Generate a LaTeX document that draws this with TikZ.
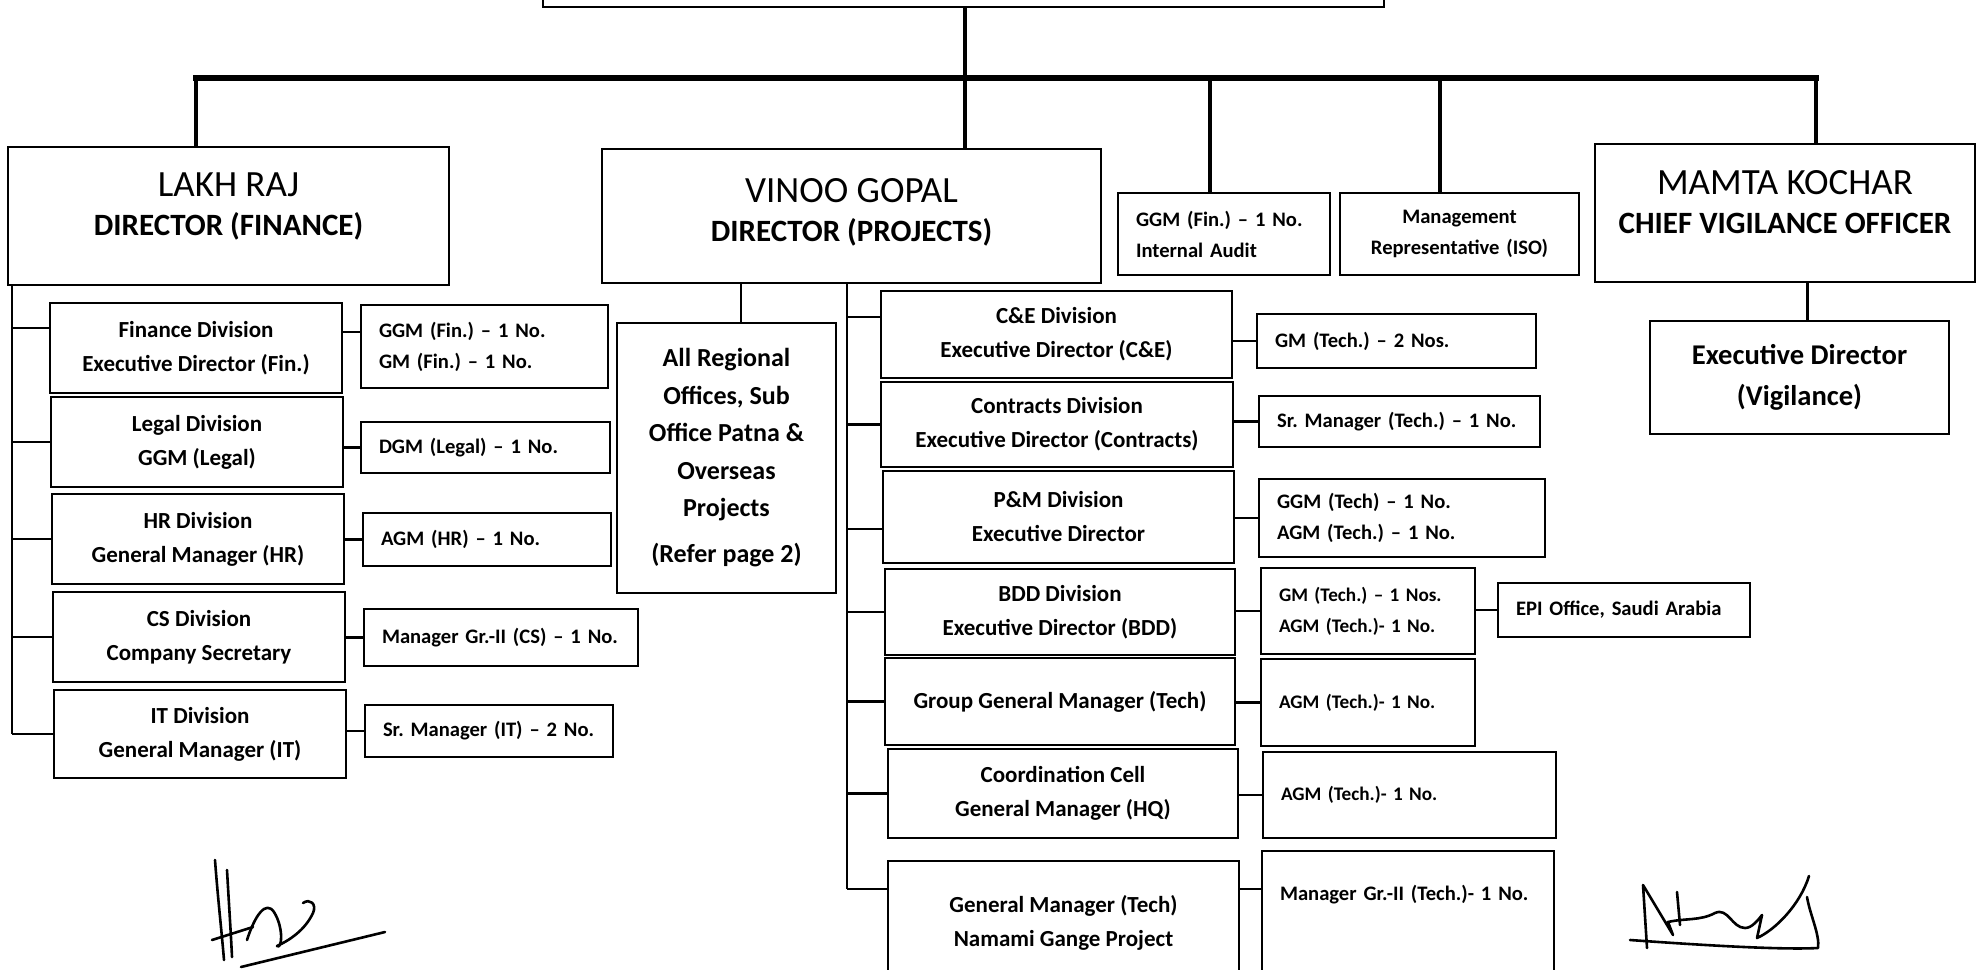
\documentclass[tikz,border=0pt]{standalone}
\usepackage{fontspec}
\setmainfont{Carlito}
\frenchspacing
\newcommand{\namefont}{\fontsize{18.5}{19.5}\selectfont}
\tikzset{
  headbox/.style={draw, line width=1.4pt, inner sep=0pt, align=center, font=\fontsize{15.5}{19.5}\selectfont},
  divbox/.style={draw, line width=1.4pt, inner sep=0pt, align=center, font=\bfseries\fontsize{11.5}{17}\selectfont},
  subbox/.style={draw, line width=1.4pt, inner xsep=9pt, inner ysep=0pt, align=left, font=\bfseries\fontsize{10.3}{15.5}\selectfont},
  smalltext/.style={font=\bfseries\fontsize{9.6}{15.5}\selectfont},
  mainbar/.style={line width=3.2pt, line cap=rect},
  droplink/.style={line width=2.2pt},
  sublink/.style={line width=1.2pt},
  sign/.style={line width=1.3pt, line cap=round, line join=round}
}
\begin{document}
\begin{tikzpicture}[x=0.5pt, y=-0.5pt]
  \useasboundingbox (0,0) rectangle (1979,969);
  \fill[white] (0,0) rectangle (1979,969);
  \clip (0,0) rectangle (1979,969);

  % heads
  \node[headbox, minimum width=420.5pt, minimum height=43.5pt] (top) at (963.5,-36.5) {};
  \node[headbox, minimum width=220.5pt, minimum height=69pt] (lakh) at (228.5,216) {{\namefont LAKH RAJ}\\\textbf{DIRECTOR (FINANCE)}\\[-13.5pt]\strut};
  \node[headbox, minimum width=249.5pt, minimum height=67pt] (vinoo) at (851.5,216) {{\namefont VINOO GOPAL}\\\textbf{DIRECTOR (PROJECTS)}\\[-19pt]\strut};
  \node[subbox, text width=88pt, minimum height=41pt] (audit) at (1224,234) {GGM (Fin.) – 1 No.\\Internal Audit};
  \node[subbox, align=center, inner xsep=0pt, text width=119.5pt, minimum height=41pt] (mr) at (1459.5,234) {Management\\Representative (ISO)};
  \node[headbox, minimum width=190pt, minimum height=69pt] (cvo) at (1785,213) {{\namefont MAMTA KOCHAR}\\\textbf{CHIEF VIGILANCE OFFICER}\\[-14pt]\strut};
  \node[headbox, font=\bfseries\fontsize{14.3}{20.5}\selectfont, minimum width=149.5pt, minimum height=56.5pt] (edvig) at (1799.5,377.5) {Executive Director\\(Vigilance)};

  \coordinate (b1) at (196,78);
  \coordinate (bc) at (965,78);
  \coordinate (b3) at (1210,78);
  \coordinate (b4) at (1440,78);
  \coordinate (b5) at (1816,78);
  \draw[mainbar] (b1) -- (b5);
  \draw[droplink] (b1) -- (b1 |- lakh.north);
  \draw[droplink] (bc |- top.south) -- (bc |- vinoo.north);
  \draw[droplink] (b3) -- (b3 |- audit.north);
  \draw[droplink] (b4) -- (b4 |- mr.north);
  \draw[droplink] (b5) -- (b5 |- cvo.north);
  \draw[sublink] ([xshift=4pt]edvig.north) -- ([xshift=4pt]edvig.north |- cvo.south);

  % finance
  \node[divbox, minimum width=146pt, minimum height=45pt] (fin) at (196,348) {Finance Division\\Executive Director (Fin.)};
  \node[divbox, minimum width=146pt, minimum height=45pt] (legal) at (197,442) {Legal Division\\GGM (Legal)};
  \node[divbox, minimum width=146pt, minimum height=45pt] (hr) at (198,539) {HR Division\\General Manager (HR)};
  \node[divbox, minimum width=146pt, minimum height=45pt] (cs) at (199,637) {CS Division\\Company Secretary};
  \node[divbox, minimum width=146pt, minimum height=44pt] (it) at (200,734) {IT Division\\General Manager (IT)};

  \node[subbox, text width=105.5pt, minimum height=41.5pt] (finr) at (484.5,346.5) {GGM (Fin.) – 1 No.\\GM (Fin.) – 1 No.};
  \node[subbox, text width=106.5pt, minimum height=25.5pt] (legalr) at (485.5,447.5) {\mbox{DGM (Legal) – 1 No.}};
  \node[subbox, text width=106pt, minimum height=26.5pt] (hrr) at (487,539.5) {\mbox{AGM (HR) – 1 No.}};
  \node[subbox, text width=119pt, minimum height=28.5pt] (csr) at (501,637.5) {\mbox{Manager Gr.-II (CS) – 1 No.}};
  \node[subbox, text width=106pt, minimum height=26pt] (itr) at (489,731) {\mbox{Sr. Manager (IT) – 2 No.}};

  \coordinate (fspine) at (12,734);
  \draw[sublink] (fspine |- lakh.south) -- (fspine);
  \draw[sublink] ([yshift=10pt]fin.west) -- ([yshift=10pt]fin.west -| fspine);
  \foreach \d in {legal,hr,cs,it}
    \draw[sublink] (\d.west) -- (\d.west -| fspine);
  \draw[sublink] ([yshift=8pt]fin.east) -- ([yshift=8pt]fin.east -| finr.west);
  \foreach \a/\b in {legal/legalr,hr/hrr,cs/csr,it/itr}
    \draw[sublink] (\a.east |- \b.west) -- (\b.west);

  % projects
  \node[divbox, font=\bfseries\fontsize{13}{18.75}\selectfont, minimum width=109.5pt, minimum height=135pt] (regional) at (726.5,458) {All Regional\\Offices, Sub\\Office Patna \&\\Overseas\\Projects\\[4.25pt](Refer page 2)};
  \draw[sublink] ([xshift=7.25pt]regional.north) -- ([xshift=7.25pt]regional.north |- vinoo.south);

  \node[divbox, minimum width=175.5pt, minimum height=43.5pt] (ce) at (1056.5,334.5) {C\&E Division\\Executive Director (C\&E)};
  \node[divbox, minimum width=176pt, minimum height=42.5pt] (con) at (1057,424.5) {Contracts Division\\Executive Director (Contracts)};
  \node[divbox, minimum width=175.5pt, minimum height=46pt] (pm) at (1058.5,517) {P\&M Division\\Executive Director};
  \node[divbox, minimum width=175pt, minimum height=43pt] (bdd) at (1060,612) {BDD Division\\Executive Director (BDD)};
  \node[divbox, minimum width=175pt, minimum height=43.5pt] (ggmt) at (1060,701.5) {Group General Manager (Tech)};
  \node[divbox, minimum width=175pt, minimum height=44.5pt] (coord) at (1063,793.5) {Coordination Cell\\General Manager (HQ)};
  \node[divbox, minimum width=175.5pt, minimum height=62pt] (nmcg) at (1063.5,923) {General Manager (Tech)\\Namami Gange Project};

  \node[subbox, text width=121.5pt, minimum height=27pt] (cer) at (1396.5,341) {\mbox{GM (Tech.) – 2 Nos.}};
  \node[subbox, text width=122.5pt, minimum height=25.5pt] (conr) at (1399.5,421.5) {\mbox{Sr. Manager (Tech.) – 1 No.}};
  \node[subbox, text width=125pt, minimum height=39pt] (pmr) at (1402,518) {GGM (Tech) – 1 No.\\AGM (Tech.) – 1 No.};
  \node[subbox, smalltext, text width=89pt, minimum height=43pt] (bddr) at (1368,611) {GM (Tech.) – 1 Nos.\\AGM (Tech.)- 1 No.};
  \node[subbox, text width=108pt, minimum height=27pt] (epi) at (1624,610) {\mbox{EPI Office, Saudi Arabia}};
  \node[subbox, smalltext, text width=89pt, minimum height=43.5pt] (ggmtr) at (1368,702.5) {AGM (Tech.)- 1 No.};
  \node[subbox, smalltext, text width=128.5pt, minimum height=43pt] (coordr) at (1409.5,795) {AGM (Tech.)- 1 No.};
  \node[subbox, text width=128pt, text height=24.5pt, text depth=42.5pt] (nmcgr) at (1408,918) {\mbox{Manager Gr.-II (Tech.)- 1 No.}};

  \coordinate (pspine) at (847,889);
  \draw[sublink] (pspine |- vinoo.south) -- (pspine);
  \draw[sublink] ([yshift=8.75pt]ce.west) -- ([yshift=8.75pt]ce.west -| pspine);
  \draw[sublink] ([yshift=-6pt]pm.west) -- ([yshift=-6pt]pm.west -| pspine);
  \draw[sublink] ([yshift=17pt]nmcg.west) -- ([yshift=17pt]nmcg.west -| pspine);
  \foreach \d in {con,bdd,ggmt,coord}
    \draw[sublink] (\d.west) -- (\d.west -| pspine);
  \foreach \a/\b in {ce/cer,con/conr,pm/pmr,bdd/bddr,bddr/epi,ggmt/ggmtr,coord/coordr}
    \draw[sublink] (\a.east |- \b.west) -- (\b.west);
  \draw[sublink] ([yshift=17pt]nmcg.east) -- ([yshift=17pt]nmcg.east -| nmcgr.west);

  % signatures
  \draw[sign] (215,860) .. controls (218,900) and (222,935) .. (224,960);
  \draw[sign] (227,870) .. controls (229,905) and (231,935) .. (232,957);
  \draw[sign] (212,940) -- (253,927);
  \draw[sign] (247,940) .. controls (255,915) and (266,900) .. (274,912) .. controls (284,928) and (282,950) .. (277,946) .. controls (290,940) and (305,930) .. (313,913) .. controls (317,904) and (310,898) .. (303,903);
  \draw[sign] (241,967) -- (385,932);
  \draw[sign] (1647,948) -- (1643,885) -- (1673,935) -- (1668,922) .. controls (1685,918) and (1700,921) .. (1715,913) .. controls (1728,907) and (1732,928) .. (1745,928) .. controls (1752,928) and (1758,920) .. (1762,915) -- (1757,938) .. controls (1775,930) and (1800,905) .. (1809,876);
  \draw[sign] (1677,892) -- (1680,925);
  \draw[sign] (1630,940) .. controls (1700,945) and (1780,950) .. (1818,948) .. controls (1820,935) and (1810,915) .. (1807,897);
\end{tikzpicture}
\end{document}
